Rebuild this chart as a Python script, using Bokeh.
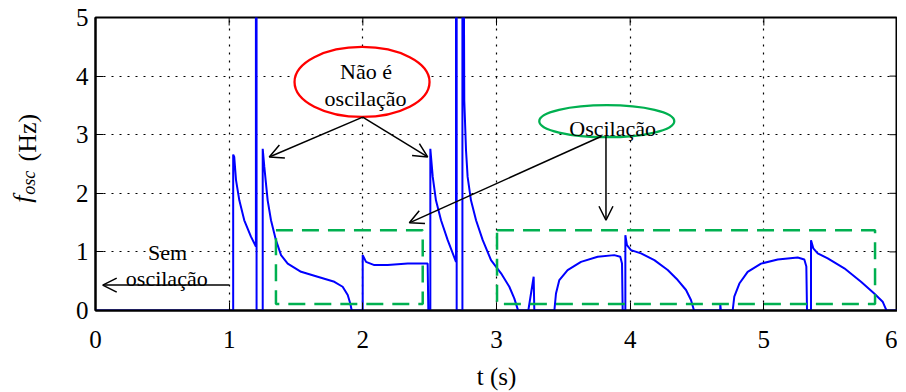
import numpy as np
from bokeh.plotting import figure
from bokeh.layouts import row
from bokeh.models import Range1d, Label, Arrow, OpenHead, FixedTicker
from bokeh.embed import file_html
from bokeh.resources import INLINE
from bokeh.core.properties import value

# ---- data ----
t_s = [0.0, 1.030, 1.030, 1.038, 1.051, 1.076, 1.113, 1.163, 1.200, 1.200, 1.205, 1.205,
       1.251, 1.251, 1.263, 1.288, 1.313, 1.350, 1.388, 1.438, 1.538, 1.662, 1.787, 1.849,
       1.887, 1.906, 1.917, 1.999, 1.999, 2.024, 2.086, 2.186, 2.336, 2.485, 2.490, 2.505,
       2.505, 2.523, 2.547, 2.585, 2.635, 2.697, 2.697, 2.702, 2.702, 2.745, 2.745, 2.750,
       2.759, 2.772, 2.784, 2.809, 2.847, 2.897, 2.959, 3.034, 3.096, 3.133, 3.159, 3.165,
       3.238, 3.278, 3.283, 3.433, 3.445, 3.470, 3.532, 3.632, 3.757, 3.881, 3.926, 3.939,
       3.944, 3.964, 3.964, 3.976, 4.006, 4.081, 4.181, 4.281, 4.356, 4.418, 4.455, 4.475,
       4.480, 4.674, 4.674, 4.679, 4.767, 4.779, 4.817, 4.879, 4.979, 5.104, 5.253, 5.303,
       5.318, 5.323, 5.353, 5.353, 5.370, 5.403, 5.478, 5.602, 5.727, 5.826, 5.889, 5.914,
       5.920, 6.0]
f_osc = [0.0, 0.0, 2.66, 2.62, 2.23, 1.88, 1.54, 1.26, 1.09, 9.0, 9.0, 0.0,
         0.0, 2.76, 2.45, 1.88, 1.54, 1.20, 0.945, 0.80, 0.66, 0.576, 0.49, 0.405,
         0.264, 0.12, 0.0, 0.0, 0.945, 0.83, 0.775, 0.775, 0.80, 0.80, 0.0, 0.0,
         2.76, 2.28, 1.88, 1.54, 1.20, 0.83, 9.0, 9.0, 0.0, 0.0, 9.0, 9.0,
         3.58, 2.73, 2.28, 1.88, 1.54, 1.20, 0.86, 0.634, 0.405, 0.207, 0.02, 0.0,
         0.0, 0.576, 0.0, 0.0, 0.29, 0.52, 0.69, 0.83, 0.917, 0.945, 0.917, 0.80,
         0.0, 0.0, 1.286, 1.116, 1.03, 0.975, 0.86, 0.69, 0.52, 0.35, 0.18, 0.02,
         0.0, 0.0, 0.11, 0.0, 0.0, 0.235, 0.46, 0.66, 0.80, 0.87, 0.905, 0.87,
         0.75, 0.0, 0.0, 1.20, 1.06, 0.975, 0.89, 0.72, 0.49, 0.29, 0.15, 0.02,
         0.0, 0.0]
assert len(t_s) == len(f_osc)

x_ticks = [0, 1, 2, 3, 4, 5, 6]
y_ticks = [0, 1, 2, 3, 4, 5]

# dashed "oscillation" boxes (t from, t to, f low, f high)
box_left = [1.350, 3.004]
box_right = [2.448, 5.832]
box_bottom = [0.111, 0.111]
box_top = [1.371, 1.371]

FONT = "Liberation Serif"
H = 392
LW = 60  # width of the strip holding the y-axis title
TOP, BOTTOM = 17, 82
FW, FH = 802, H - TOP - BOTTOM

# ---------- strip with the y-axis title (same vertical scale as the chart) ----------
lab = figure(width=LW, height=H, output_backend="svg", toolbar_location=None, title=None,
             x_range=Range1d(0, LW), y_range=Range1d(0, 5),
             x_axis_location=None, y_axis_location=None,
             min_border_left=0, min_border_right=0,
             min_border_top=TOP, min_border_bottom=BOTTOM)
lab.outline_line_color = None
lab.xgrid.visible = False
lab.ygrid.visible = False
lab.text(x=[22], y=[1.90], text=["f"], angle=np.pi / 2, text_font=value(FONT),
         text_font_size=value("26px"), text_font_style=value("italic"),
         text_align="center", text_baseline="middle", text_color="black")
lab.text(x=[28], y=[2.18], text=["osc"], angle=np.pi / 2, text_font=value(FONT),
         text_font_size=value("18px"), text_font_style=value("italic"),
         text_align="center", text_baseline="middle", text_color="black")
lab.text(x=[27], y=[2.95], text=["(Hz)"], angle=np.pi / 2, text_font=value(FONT),
         text_font_size=value("26px"), text_font_style=value("normal"),
         text_align="center", text_baseline="middle", text_color="black")

# ---------- main chart ----------
p = figure(frame_width=FW, frame_height=FH, output_backend="svg", toolbar_location=None,
           title=None, x_range=Range1d(0, 6), y_range=Range1d(0, 5),
           min_border_left=95 - LW, min_border_right=0,
           min_border_top=TOP, min_border_bottom=BOTTOM)
p.background_fill_color = "white"
p.border_fill_color = "white"
p.outline_line_color = "black"
p.outline_line_width = 2

for ax, ticks in ((p.xaxis, x_ticks), (p.yaxis, y_ticks)):
    ax.ticker = FixedTicker(ticks=ticks)
    ax.major_tick_in = 8
    ax.major_tick_out = 0
    ax.minor_tick_line_color = None
    ax.axis_line_width = 2
    ax.major_tick_line_width = 1
    ax.major_label_text_font = FONT
    ax.major_label_text_font_size = "25px"
    ax.major_label_text_color = "black"
p.xaxis.major_label_standoff = 20
p.yaxis.major_label_standoff = 7
p.xaxis.axis_label = "t (s)"
p.xaxis.axis_label_text_font = FONT
p.xaxis.axis_label_text_font_size = "25px"
p.xaxis.axis_label_text_font_style = "normal"
p.xaxis.axis_label_text_color = "black"
p.xaxis.axis_label_standoff = 12

for g, ticks in ((p.xgrid, x_ticks), (p.ygrid, y_ticks)):
    g.ticker = FixedTicker(ticks=ticks)
    g.grid_line_color = "black"
    g.grid_line_dash = "2 6"
    g.grid_line_width = 1.2
    g.grid_line_alpha = 1.0

# inner ticks on top and right sides (MATLAB-like box)
p.ray(x=[6] * len(y_ticks), y=y_ticks, length=8, length_units="screen",
      angle=np.pi, line_color="black", line_width=1)
p.ray(x=x_ticks, y=[5] * len(x_ticks), length=8, length_units="screen",
      angle=-np.pi / 2, line_color="black", line_width=1)

# main signal
p.line(t_s, f_osc, line_color="#0000FF", line_width=2)

# dashed boxes
p.quad(left=box_left, right=box_right, bottom=box_bottom, top=box_top,
       fill_color=None, line_color="#00B050", line_width=2.5, line_dash="17 9")

# ellipses
p.ellipse(x=[1.994], y=[3.90], width=[135], height=[70], width_units="screen",
          height_units="screen", fill_color="white", line_color="#FF0000", line_width=2.3)
p.ellipse(x=[3.825], y=[3.23], width=[135], height=[32], width_units="screen",
          height_units="screen", fill_color="white", line_color="#00B050", line_width=2.3)

def arrow(x0, y0, x1, y1):
    p.add_layout(Arrow(x_start=x0, y_start=y0, x_end=x1, y_end=y1,
                       line_color="black", line_width=1.5,
                       end=OpenHead(size=14, line_color="black", line_width=1.5)))

arrow(1.999, 3.30, 1.300, 2.62)
arrow(1.999, 3.30, 2.485, 2.62)
arrow(3.786, 2.973, 2.348, 1.496)
arrow(3.819, 2.973, 3.819, 1.54)
arrow(0.999, 0.434, 0.054, 0.434)

def label(x, y, text, size="22px"):
    p.add_layout(Label(x=x, y=y, text=text, text_font=FONT,
                       text_font_size=size, text_font_style="normal",
                       text_align="center", text_baseline="alphabetic", text_color="black"))

label(2.024, 4.08, "Não é")
label(2.020, 3.62, "oscilação")
label(3.869, 3.114, "Oscilação")
label(0.540, 0.99, "Sem")
label(0.533, 0.55, "oscilação")

layout = row(lab, p, spacing=0)
open("out.html", "w").write(file_html(layout, INLINE))
